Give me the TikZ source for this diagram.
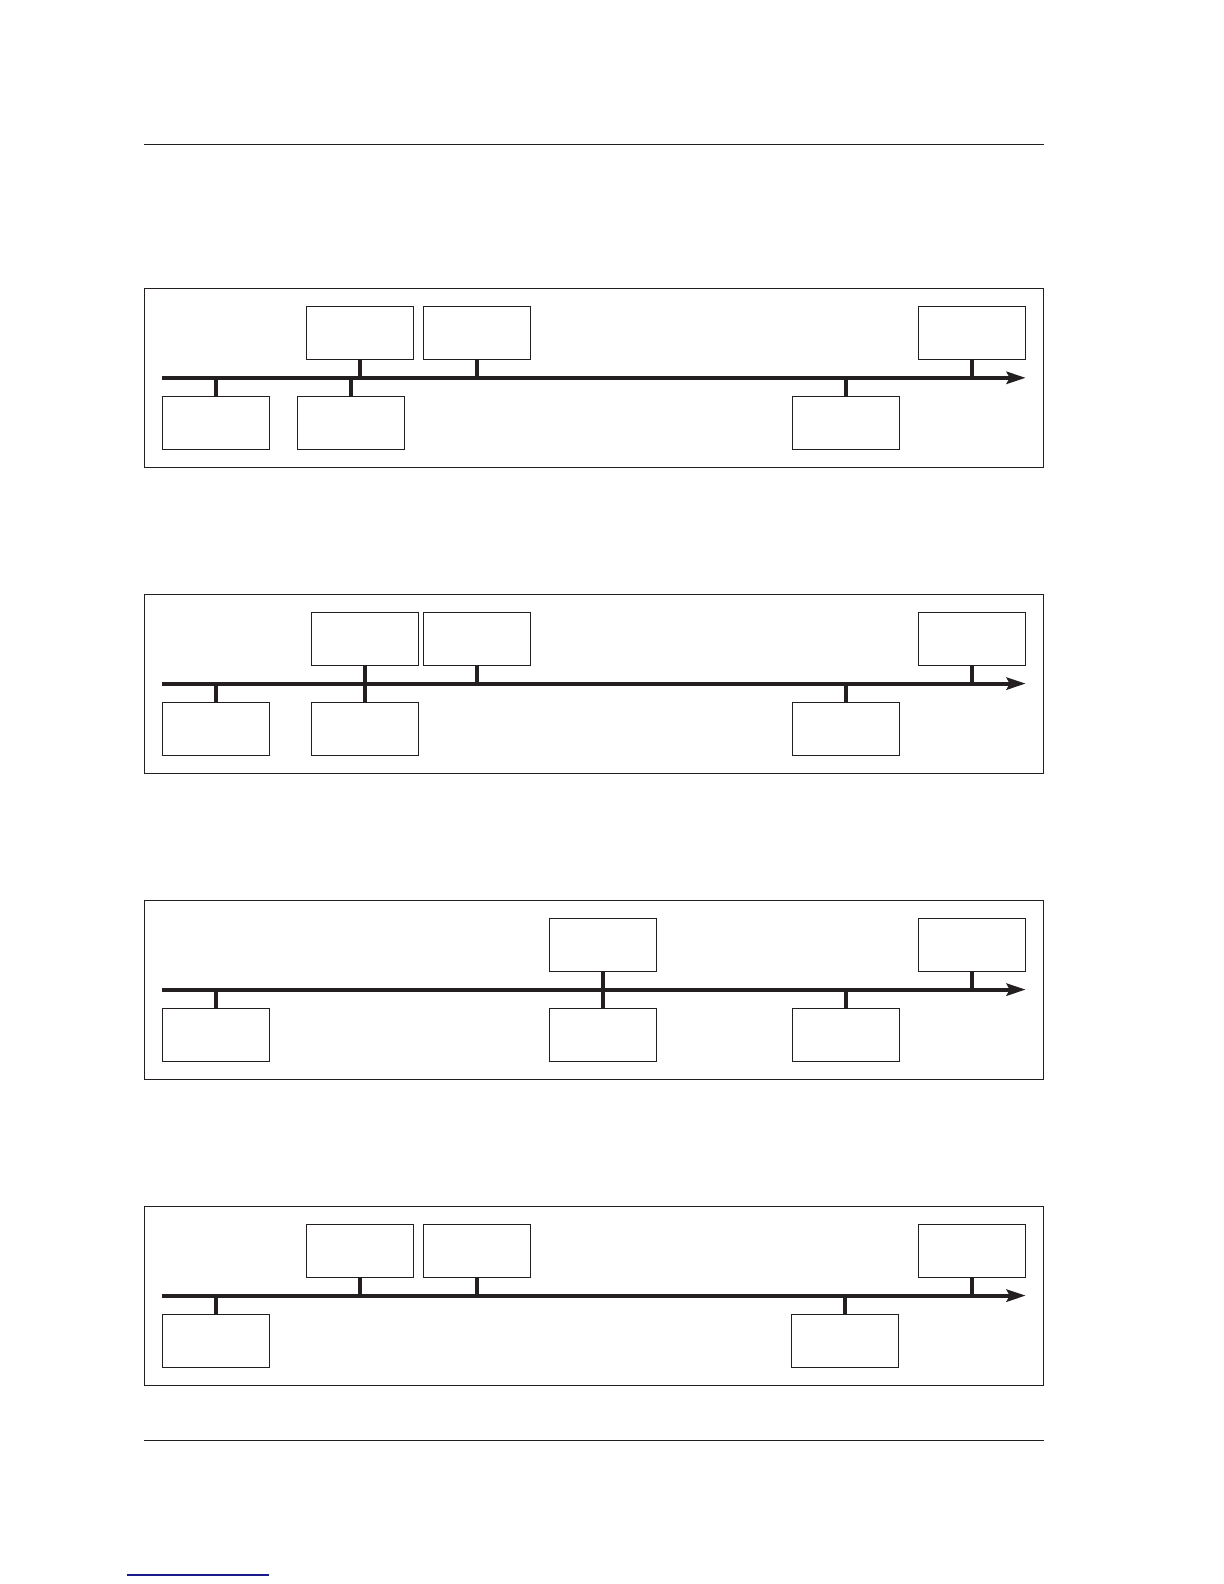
\documentclass[tikz,border=0pt]{standalone}
\usetikzlibrary{arrows.meta}
\definecolor{ink}{HTML}{231F20}
\definecolor{navy}{HTML}{1A1A8C}
\begin{document}
\begin{tikzpicture}[x=0.5bp,y=-0.5bp,
  evbox/.style={draw=ink,line width=0.65pt,minimum width=53.7bp,minimum height=26.5bp,inner sep=0pt,outer sep=0pt},
  frame/.style={draw=ink,line width=0.65pt},
  rule/.style={draw=ink,line width=0.75pt},
  axisline/.style={draw=ink,line width=2bp,-{Stealth[length=9.5bp,width=6bp,inset=1.5bp]}},
  tickline/.style={draw=ink,line width=1.8bp}]
\useasboundingbox (0,0) rectangle (1224,1584);
% rules
\coordinate (r1a) at (144,144.3); \coordinate (r1b) at (1043.7,144.3);
\draw[rule] (r1a) -- (r1b);
\coordinate (r2a) at (144,1440.3); \coordinate (r2b) at (1043.7,1440.3);
\draw[rule] (r2a) -- (r2b);
\coordinate (bl1) at (127,1575); \coordinate (bl2) at (269,1575);
\draw[navy,line width=0.75pt] (bl1) -- (bl2);

% ---------- panel 1 ----------
\def\T{288.5}
\draw[frame] (144.3,\T) rectangle (1043.5,\T+179);
\coordinate (p1s) at (162.3,\T+89.3); \coordinate (p1e) at (1025.7,\T+89.3);
\node[evbox] (p1u1) at (360,\T+44.5) {};
\node[evbox] (p1u2) at (477,\T+44.5) {};
\node[evbox] (p1u3) at (972,\T+44.5) {};
\node[evbox] (p1l1) at (216,\T+134.5) {};
\node[evbox] (p1l2) at (351,\T+134.5) {};
\node[evbox] (p1l3) at (846,\T+134.5) {};
\foreach \n in {p1u1,p1u2,p1u3} \draw[tickline] (\n.south) -- (\n.south |- p1s);
\foreach \n in {p1l1,p1l2,p1l3} \draw[tickline] (\n.north) -- (\n.north |- p1s);
\draw[axisline] (p1s) -- (p1e);

% ---------- panel 2 ----------
\def\T{594.3}
\draw[frame] (144.3,\T) rectangle (1043.5,\T+179);
\coordinate (p2s) at (162.3,\T+89.3); \coordinate (p2e) at (1025.7,\T+89.3);
\node[evbox] (p2u1) at (365,\T+44.5) {};
\node[evbox] (p2u2) at (477,\T+44.5) {};
\node[evbox] (p2u3) at (972,\T+44.5) {};
\node[evbox] (p2l1) at (216,\T+134.5) {};
\node[evbox] (p2l2) at (365,\T+134.5) {};
\node[evbox] (p2l3) at (846,\T+134.5) {};
\foreach \n in {p2u1,p2u2,p2u3} \draw[tickline] (\n.south) -- (\n.south |- p2s);
\foreach \n in {p2l1,p2l2,p2l3} \draw[tickline] (\n.north) -- (\n.north |- p2s);
\draw[axisline] (p2s) -- (p2e);

% ---------- panel 3 ----------
\def\T{900.3}
\draw[frame] (144.3,\T) rectangle (1043.5,\T+179);
\coordinate (p3s) at (162.3,\T+89.3); \coordinate (p3e) at (1025.7,\T+89.3);
\node[evbox] (p3u1) at (603,\T+44.5) {};
\node[evbox] (p3u2) at (972,\T+44.5) {};
\node[evbox] (p3l1) at (216,\T+134.5) {};
\node[evbox] (p3l2) at (603,\T+134.5) {};
\node[evbox] (p3l3) at (846,\T+134.5) {};
\foreach \n in {p3u1,p3u2} \draw[tickline] (\n.south) -- (\n.south |- p3s);
\foreach \n in {p3l1,p3l2,p3l3} \draw[tickline] (\n.north) -- (\n.north |- p3s);
\draw[axisline] (p3s) -- (p3e);

% ---------- panel 4 ----------
\def\T{1206.3}
\draw[frame] (144.3,\T) rectangle (1043.5,\T+179);
\coordinate (p4s) at (162.3,\T+89.3); \coordinate (p4e) at (1025.7,\T+89.3);
\node[evbox] (p4u1) at (360,\T+44.5) {};
\node[evbox] (p4u2) at (477,\T+44.5) {};
\node[evbox] (p4u3) at (972,\T+44.5) {};
\node[evbox] (p4l1) at (216,\T+134.5) {};
\node[evbox] (p4l2) at (845,\T+134.5) {};
\foreach \n in {p4u1,p4u2,p4u3} \draw[tickline] (\n.south) -- (\n.south |- p4s);
\foreach \n in {p4l1,p4l2} \draw[tickline] (\n.north) -- (\n.north |- p4s);
\draw[axisline] (p4s) -- (p4e);
\end{tikzpicture}
\end{document}
